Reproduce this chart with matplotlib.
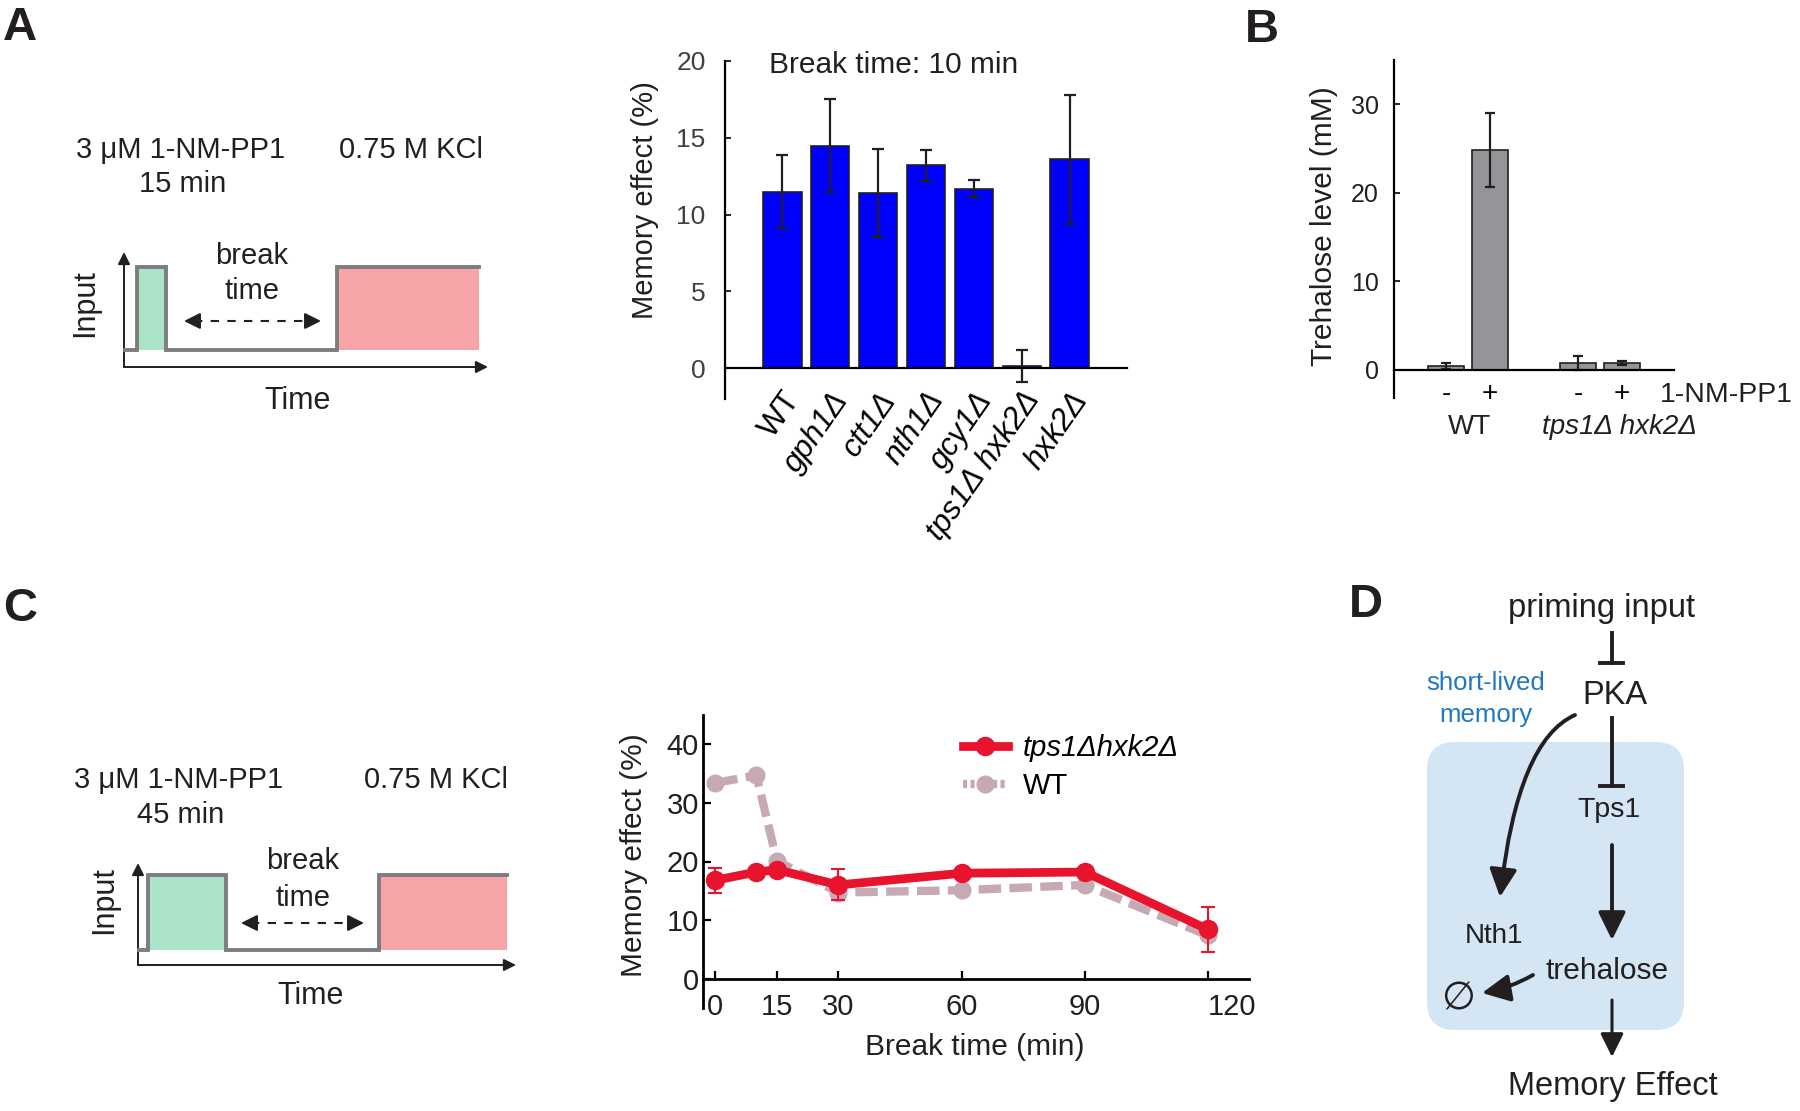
import matplotlib
matplotlib.use('Agg')
import matplotlib.pyplot as plt
from matplotlib.patches import Rectangle, FancyArrowPatch, FancyBboxPatch
from matplotlib.path import Path
from matplotlib.lines import Line2D

plt.rcParams['font.family'] = ['Liberation Sans', 'DejaVu Sans']
plt.rcParams['axes.unicode_minus'] = False

W, H = 1800, 1111

# ---------------- data ----------------
strains_A = ['WT', 'gph1Δ', 'ctt1Δ', 'nth1Δ', 'gcy1Δ', 'tps1Δ hxk2Δ', 'hxk2Δ']
memory_A = [11.5, 14.5, 11.4, 13.2, 11.7, 0.15, 13.6]
memory_A_err = [2.4, 3.05, 2.85, 0.98, 0.58, 1.05, 4.2]
yticks_A = [0, 5, 10, 15, 20]

treh_drug = ['-', '+', '-', '+']
treh_pos = [1, 2, 4, 5]
trehalose = [0.4, 24.8, 0.8, 0.75]
trehalose_err = [0.3, 4.2, 0.8, 0.25]
yticks_B = [0, 10, 20, 30]

break_time = [0, 10, 15, 30, 60, 90, 120]
mem_tps = [16.8, 18.2, 18.6, 16.0, 18.0, 18.2, 8.4]
mem_tps_err = [2.1, 0.4, 0.4, 2.65, 0.4, 0.4, 3.8]
mem_wt = [33.4, 34.7, 20.1, 14.7, 15.1, 16.0, 7.4]
xticks_C = [0, 15, 30, 60, 90, 120]
yticks_C = [0, 10, 20, 30, 40]

# ---------------- colours ----------------
INK = '#231f20'
GRAY_LINE = '#7d7d7d'
GREEN = '#aae3c8'
PINK = '#f6a4a8'
BLUE_BAR = '#0000ff'
GRAY_BAR = '#939598'
RED = '#e8132d'
WTC = '#c7a9b4'
BOX = '#d4e5f3'
BLUE_TXT = '#2278c0'

fig = plt.figure(figsize=(18, 11.11), dpi=100)

bg = fig.add_axes([0, 0, 1, 1], zorder=0)
bg.set_xlim(0, W)
bg.set_ylim(H, 0)
bg.axis('off')


def rect(l, t, r, b):
    return [l / W, 1 - b / H, (r - l) / W, (b - t) / H]


def txt(x, y, s, size, **kw):
    kw.setdefault('ha', 'center')
    kw.setdefault('va', 'center')
    kw.setdefault('color', INK)
    bg.text(x, y, s, fontsize=size, **kw)


def arrow(p0, p1, lw=1.5, ms=12, hl=0.6, hw=0.3, path=None, color=INK):
    style = '-|>,head_length=%g,head_width=%g' % (hl, hw)
    if path is not None:
        a = FancyArrowPatch(path=path, arrowstyle=style, mutation_scale=ms,
                            lw=lw, color=color, shrinkA=0, shrinkB=0)
    else:
        a = FancyArrowPatch(p0, p1, arrowstyle=style, mutation_scale=ms,
                            lw=lw, color=color, shrinkA=0, shrinkB=0)
    bg.add_patch(a)


# panel letters
for s, x, y in [('A', 3, 40), ('B', 1245, 42), ('C', 3, 621), ('D', 1349, 617)]:
    bg.text(x, y, s, fontsize=34, fontweight='bold', ha='left', va='baseline', color=INK)


# ---------------- protocol diagrams (A and C) ----------------
def protocol(y_ax, y_base, y_top, x0, xs0, g0, g1, p0, p1, y_arrow_top,
             dur, y_t1, y_t2, x_t1, x_t2, x_brk, y_brk1, y_brk2, da0, da1, y_da,
             x_in, y_in, x_time, y_time, x_ax_end, size):
    bg.add_patch(Rectangle((g0, y_top), g1 - g0, y_base - y_top, color=GREEN, lw=0, zorder=1))
    bg.add_patch(Rectangle((p0, y_top), p1 - p0, y_base - y_top, color=PINK, lw=0, zorder=1))
    xs = [xs0, g0, g0, g1, g1, p0, p0, p1]
    ys = [y_base, y_base, y_top, y_top, y_base, y_base, y_top, y_top]
    bg.plot(xs, ys, color=GRAY_LINE, lw=2.8, zorder=2, solid_joinstyle='miter')
    arrow((x0, y_ax), (x0, y_arrow_top), lw=1.4, ms=12, hl=0.6, hw=0.3)
    arrow((x0, y_ax), (x_ax_end, y_ax), lw=1.4, ms=12, hl=0.6, hw=0.3)
    bg.plot([da0 + 10, da1 - 10], [y_da, y_da], color=INK, lw=1.5, ls=(0, (4, 4)))
    arrow((da0 + 14, y_da), (da0, y_da), lw=1.5, ms=14, hl=0.7, hw=0.35)
    arrow((da1 - 14, y_da), (da1, y_da), lw=1.5, ms=14, hl=0.7, hw=0.35)
    txt(x_t1, y_t1, '3 μM 1-NM-PP1', size)
    txt(x_t1 + 2, y_t2, dur, size)
    txt(x_t2, y_t1, '0.75 M KCl', size)
    txt(x_brk, y_brk1, 'break', size)
    txt(x_brk, y_brk2, 'time', size)
    txt(x_in, y_in, 'Input', size + 1, rotation=90)
    txt(x_time, y_time, 'Time', size + 1)


protocol(y_ax=367, y_base=350, y_top=267, x0=124, xs0=125, g0=137, g1=166,
         p0=337, p1=479, y_arrow_top=252, dur='15 min', y_t1=150, y_t2=184,
         x_t1=181, x_t2=411, x_brk=252, y_brk1=256, y_brk2=291,
         da0=184, da1=321, y_da=321, x_in=85, y_in=303, x_time=298, y_time=401,
         x_ax_end=488, size=21)

protocol(y_ax=965, y_base=950, y_top=875, x0=138, xs0=139, g0=148, g1=226,
         p0=379, p1=507, y_arrow_top=863, dur='45 min', y_t1=780, y_t2=815,
         x_t1=179, x_t2=436, x_brk=303, y_brk1=861, y_brk2=898,
         da0=241, da1=364, y_da=923, x_in=104, y_in=900, x_time=311, y_time=996,
         x_ax_end=516, size=21)

# ---------------- panel A bar chart ----------------
axA = fig.add_axes(rect(725, 61, 1127, 399), zorder=2)
axA.set_facecolor('none')
xA = list(range(1, len(strains_A) + 1))
axA.bar(xA, memory_A, width=0.81, color=BLUE_BAR, edgecolor=INK, linewidth=1.2,
        yerr=memory_A_err,
        error_kw=dict(ecolor=INK, elinewidth=1.6, capsize=4, capthick=1.6), zorder=2)
axA.set_xlim(-0.19, 8.19)
axA.set_ylim(-2, 20)
for s in ['top', 'right']:
    axA.spines[s].set_visible(False)
axA.spines['bottom'].set_position(('data', 0))
axA.spines['left'].set_linewidth(1.6)
axA.spines['bottom'].set_linewidth(1.6)
axA.set_yticks(yticks_A)
axA.tick_params(axis='y', direction='in', length=4, width=1.2, labelsize=19,
                labelcolor='#404040', pad=14)
axA.set_xticks(xA)
axA.set_xticklabels(strains_A)
axA.tick_params(axis='x', length=0, labelsize=22.5, pad=13)
for lbl in axA.get_xticklabels():
    lbl.set_rotation(55)
    lbl.set_ha('right')
    lbl.set_va('top')
    lbl.set_rotation_mode('anchor')
    if lbl.get_text() != 'WT':
        lbl.set_fontstyle('italic')
txt(645, 200, 'Memory effect (%)', 21, rotation=90)
txt(894, 65, 'Break time: 10 min', 21.5)

# ---------------- panel B bar chart ----------------
axB = fig.add_axes(rect(1394, 60, 1674, 398), zorder=2)
axB.set_facecolor('none')
axB.bar(treh_pos, trehalose, width=0.8, color=GRAY_BAR, edgecolor=INK, linewidth=1.2,
        yerr=trehalose_err,
        error_kw=dict(ecolor=INK, elinewidth=1.6, capsize=3.5, capthick=1.6), zorder=2)
axB.set_xlim(-0.18, 6.18)
axB.set_ylim(-3.2, 35)
for s in ['top', 'right']:
    axB.spines[s].set_visible(False)
axB.spines['bottom'].set_position(('data', 0))
axB.spines['left'].set_linewidth(1.6)
axB.spines['bottom'].set_linewidth(1.6)
axB.set_yticks(yticks_B)
axB.tick_params(axis='y', direction='in', length=4, width=1.2, labelsize=18,
                labelcolor=INK, pad=11)
axB.set_xticks(treh_pos)
axB.set_xticklabels(treh_drug)
axB.tick_params(axis='x', length=0, labelsize=20, pad=8)
txt(1660, 395, '1-NM-PP1', 20.5, ha='left')
txt(1469, 427, 'WT', 20)
txt(1619, 427, 'tps1Δ hxk2Δ', 20, fontstyle='italic')
txt(1324, 226, 'Trehalose level (mM)', 21.5, rotation=90)

# ---------------- panel C line chart ----------------
axC = fig.add_axes(rect(703, 715, 1249, 1008), zorder=2)
axC.set_facecolor('none')
axC.plot(break_time, mem_wt, color=WTC, lw=6.0, ls=(0, (2.7, 1.0)), marker='o',
         ms=12, mec=WTC, mfc=WTC, zorder=2)
axC.errorbar(break_time, mem_tps, yerr=mem_tps_err, color=RED, lw=6.3, marker='o',
             ms=13, mec=RED, mfc=RED, ecolor=RED, elinewidth=1.5, capsize=5,
             capthick=1.5, zorder=3)
axC.set_xlim(-3, 130)
axC.set_ylim(-5, 45)
for s in ['top', 'right']:
    axC.spines[s].set_visible(False)
axC.spines['bottom'].set_position(('data', 0))
axC.spines['left'].set_linewidth(2.0)
axC.spines['bottom'].set_linewidth(2.0)
axC.set_xticks(xticks_C)
axC.set_xticklabels([str(v) for v in xticks_C])
axC.set_yticks(yticks_C)
axC.tick_params(axis='x', direction='in', length=6, width=1.6, labelsize=21,
                labelcolor=INK, pad=10)
axC.tick_params(axis='y', direction='in', length=6, width=1.6, labelsize=21,
                labelcolor=INK, pad=3)
for lbl in axC.get_xticklabels():
    if lbl.get_text() == '120':
        lbl.set_ha('left')
h1 = Line2D([], [], color=RED, lw=6.3, marker='o', ms=13, mec=RED, mfc=RED)
h2 = Line2D([], [], color=WTC, lw=6.0, ls=(0, (0.5, 0.4)), marker='o', ms=12,
            mec=WTC, mfc=WTC)
leg = axC.legend([h1, h2], ['tps1Δhxk2Δ', 'WT'], loc='center left',
                 bbox_to_anchor=((963 - 703) / 546, 1 - (767 - 715) / 293),
                 frameon=False, fontsize=21,
                 handlelength=1.54, handletextpad=0.5, labelspacing=0.36,
                 borderpad=0, borderaxespad=0, numpoints=1)
leg.get_texts()[0].set_fontstyle('italic')
txt(634, 855, 'Memory effect (%)', 21.5, rotation=90)
txt(975, 1047, 'Break time (min)', 21.5)

# ---------------- panel D schematic ----------------
bg.add_patch(FancyBboxPatch((1427, 742), 257, 288,
                            boxstyle='round,pad=0,rounding_size=28',
                            facecolor=BOX, edgecolor='none', zorder=0.5))
txt(1602, 608, 'priming input', 23.5)
bg.plot([1612, 1612], [633, 663], color=INK, lw=2.8)
bg.plot([1600, 1623], [663, 663], color=INK, lw=2.8)
txt(1615, 695, 'PKA', 23.5)
txt(1486, 683, 'short-lived', 18.5, color=BLUE_TXT)
txt(1486, 715, 'memory', 18.5, color=BLUE_TXT)
bg.plot([1612, 1612], [718, 786], color=INK, lw=2.8)
bg.plot([1600, 1623], [786, 786], color=INK, lw=2.8)
txt(1609, 810, 'Tps1', 20.5)
arrow((1612, 845), (1612, 940), lw=2.8, ms=26, hl=0.65, hw=0.32)
txt(1607, 971, 'trehalose', 21.5)
txt(1494, 936, 'Nth1', 20)
arrow(None, None, lw=2.8, ms=26, hl=0.65, hw=0.32,
      path=Path([(1575, 715), (1518, 740), (1500, 897)],
                [Path.MOVETO, Path.CURVE3, Path.CURVE3]))
arrow(None, None, lw=2.8, ms=26, hl=0.65, hw=0.32,
      path=Path([(1533, 975), (1510, 988), (1482, 993)],
                [Path.MOVETO, Path.CURVE3, Path.CURVE3]))
bg.text(1458, 998, '∅', fontsize=28, ha='center', va='center', color=INK,
        family='DejaVu Sans')
arrow((1612, 1000), (1612, 1057), lw=2.2, ms=22, hl=0.65, hw=0.32)
txt(1613, 1087, 'Memory Effect', 23.5)

fig.savefig('out.png', dpi=100)
